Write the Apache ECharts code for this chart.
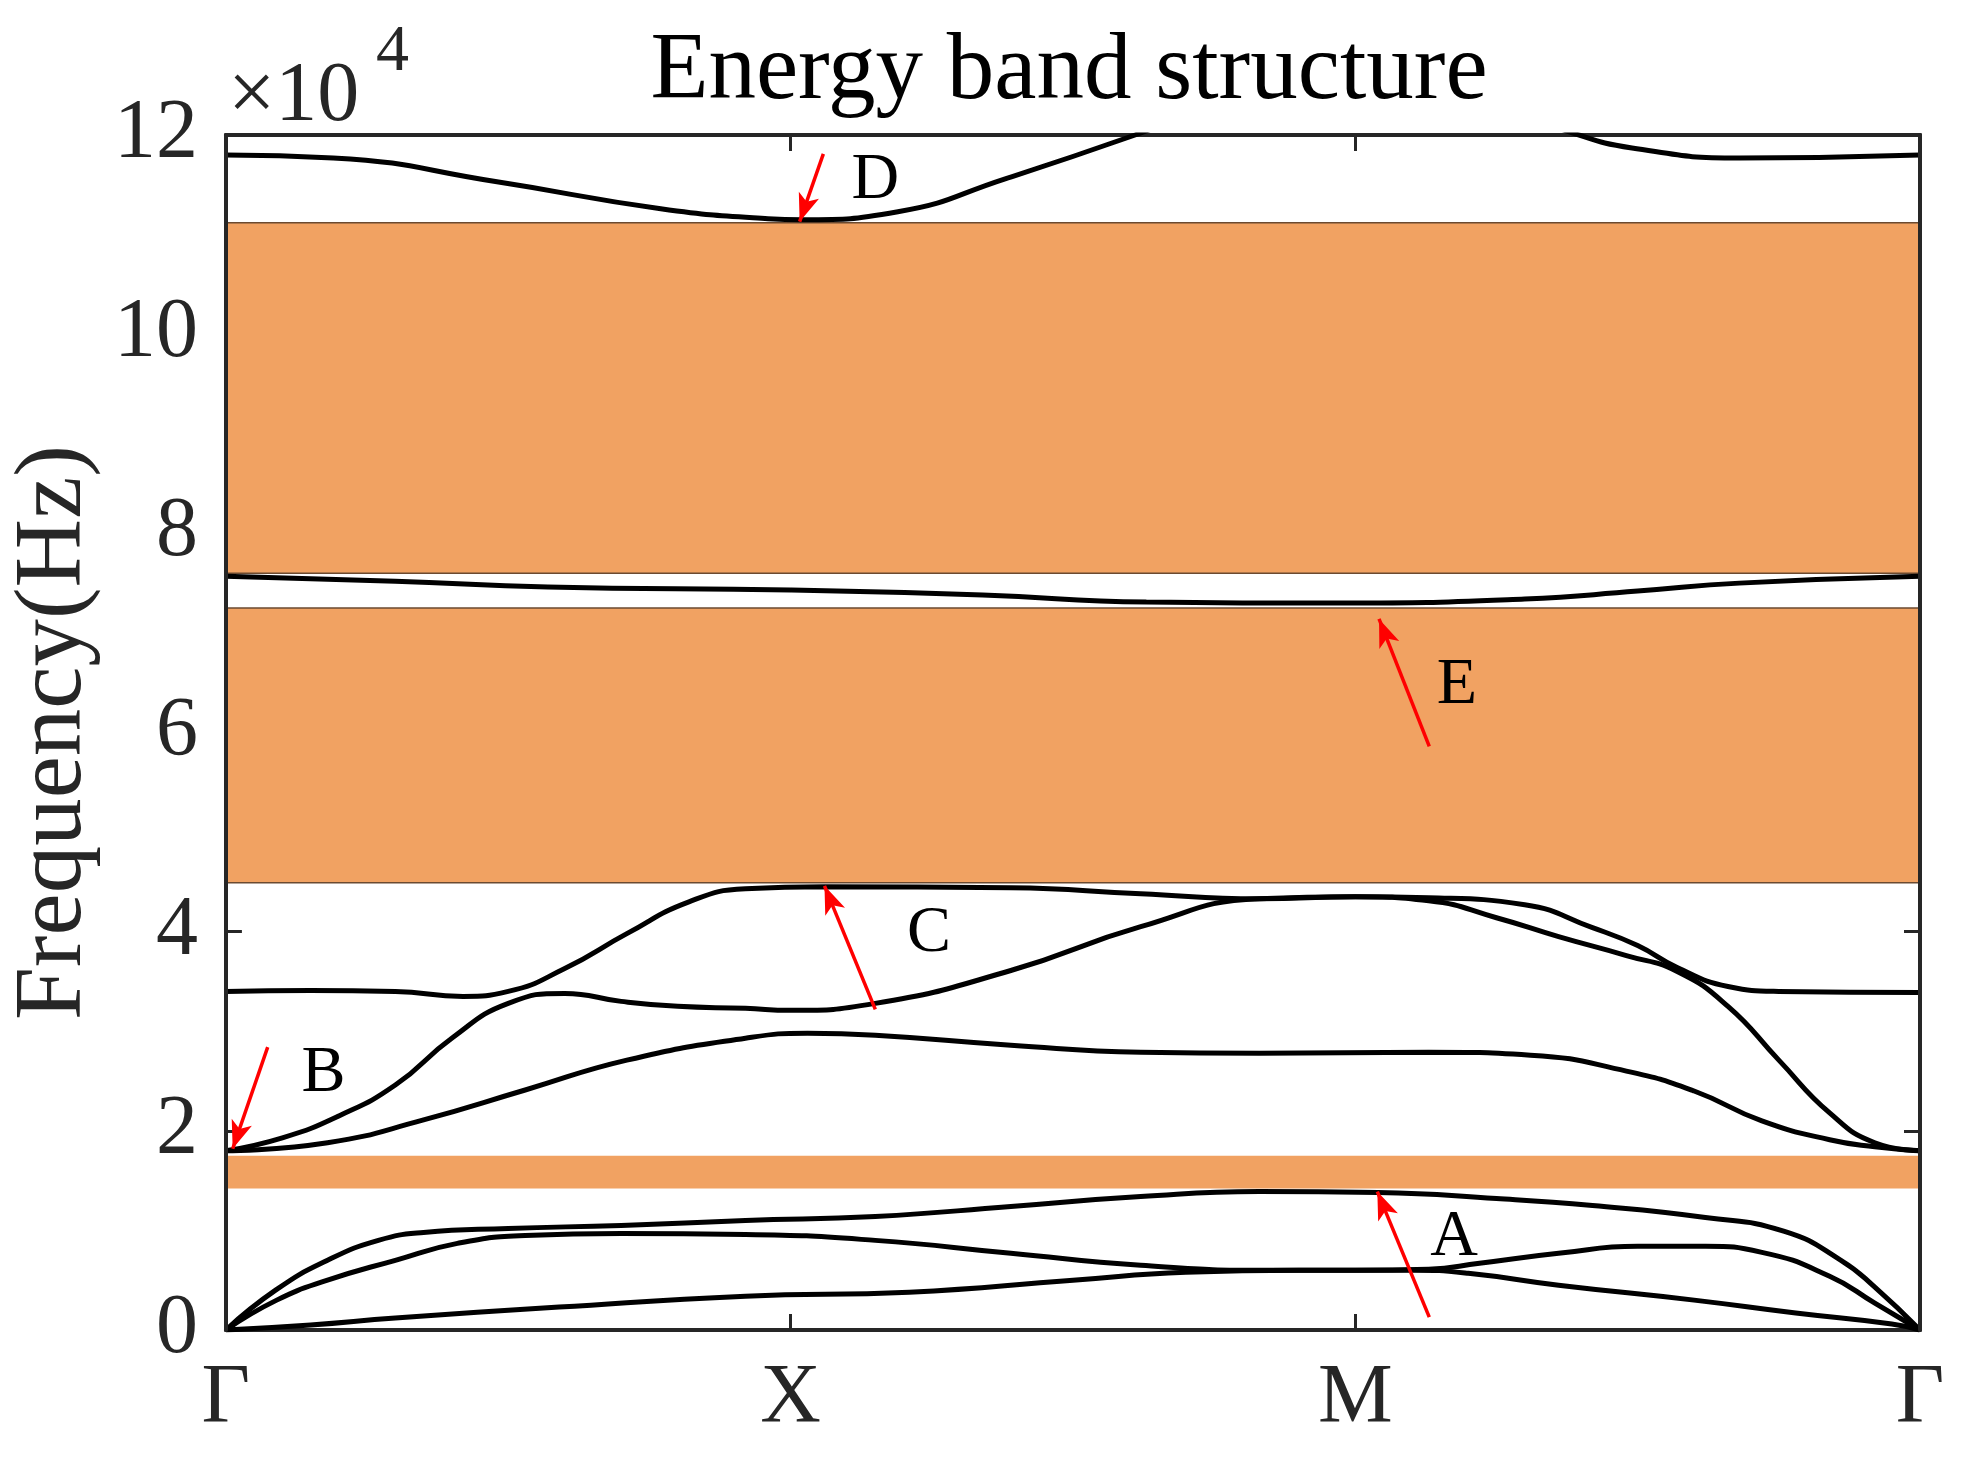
<!DOCTYPE html>
<html>
<head>
<meta charset="utf-8">
<script src="https://cdn.jsdelivr.net/npm/echarts@6/dist/echarts.min.js"></script>
<style>
html,body{margin:0;padding:0;background:#fff;}
#chart{width:1982px;height:1461px;}
</style>
</head>
<body>
<div id="chart"></div>
<script>
// ---- data (frequency in units of 10^4 Hz, wave-vector path position 0..3) ----
const kLabels = ['Γ', 'X', 'M', 'Γ'];
const yMin = 0, yMax = 12, yStep = 2;

// band gaps [lower, upper] (x10^4 Hz)
const gapBands = [[1.42, 1.75], [4.49, 7.25], [7.60, 11.12]];

// dispersion branches: [k, f]
const branch1 = [[0,0],[0.15,0.05],[0.3,0.12],[0.59,0.23],[0.92,0.34],[1.21,0.38],[1.5,0.5],[1.7,0.58],[1.9,0.6],[2.1,0.6],[2.2,0.57],[2.36,0.45],[2.6,0.3],[2.78,0.17],[2.95,0.06],[3,0]];
const branch2 = [[0,0],[0.09,0.3],[0.18,0.5],[0.3,0.7],[0.41,0.87],[0.53,0.95],[0.7,0.97],[0.92,0.96],[1.15,0.9],[1.39,0.77],[1.62,0.65],[1.85,0.6],[2.0,0.6],[2.13,0.61],[2.22,0.67],[2.36,0.77],[2.5,0.84],[2.62,0.84],[2.72,0.78],[2.84,0.54],[2.92,0.27],[3,0]];
const branch3 = [[0,0],[0.088,0.4],[0.18,0.7],[0.27,0.9],[0.35,0.98],[0.5,1.02],[0.7,1.05],[0.92,1.1],[1.15,1.14],[1.39,1.24],[1.62,1.34],[1.83,1.39],[2.04,1.38],[2.25,1.32],[2.42,1.25],[2.62,1.13],[2.76,0.99],[2.86,0.7],[2.92,0.43],[3,0]];
const branch4 = [[0,1.8],[0.18,1.88],[0.35,2.11],[0.53,2.41],[0.71,2.71],[0.92,2.93],[1.03,2.98],[1.15,2.96],[1.39,2.86],[1.62,2.79],[1.83,2.78],[2.13,2.79],[2.31,2.76],[2.48,2.6],[2.6,2.4],[2.72,2.1],[2.84,1.91],[2.92,1.84],[3,1.8]];
const branch5 = [[0,1.8],[0.1,1.93],[0.2,2.15],[0.3,2.46],[0.4,2.93],[0.5,3.28],[0.6,3.38],[0.7,3.3],[0.8,3.25],[0.92,3.23],[1.0,3.21],[1.15,3.28],[1.39,3.61],[1.62,4.05],[1.83,4.33],[2.0,4.35],[2.13,4.31],[2.25,4.14],[2.36,3.95],[2.48,3.76],[2.57,3.6],[2.66,3.25],[2.75,2.71],[2.84,2.18],[2.92,1.88],[3,1.8]];
const branch6 = [[0,3.4],[0.15,3.41],[0.3,3.4],[0.42,3.35],[0.5,3.4],[0.6,3.63],[0.71,3.98],[0.82,4.3],[0.92,4.43],[1.06,4.45],[1.39,4.44],[1.62,4.38],[1.83,4.33],[2.0,4.35],[2.13,4.34],[2.3,4.27],[2.42,4.04],[2.5,3.86],[2.57,3.64],[2.66,3.45],[2.75,3.4],[3,3.39]];
const branch7 = [[0,7.57],[0.3,7.52],[0.57,7.46],[1.0,7.43],[1.34,7.38],[1.63,7.31],[1.97,7.3],[2.3,7.34],[2.5,7.42],[2.68,7.5],[3,7.57]];
const branch8 = [[0,11.8],[0.19,11.77],[0.48,11.53],[0.77,11.26],[0.96,11.16],[1.02,11.15],[1.19,11.23],[1.38,11.56],[1.61,12.0],[1.8,12.4],[2.0,12.6],[2.2,12.4],[2.38,12.03],[2.49,11.87],[2.68,11.77],[3,11.8]];
const branches = [branch1, branch2, branch3, branch4, branch5, branch6, branch7, branch8];

// annotation arrows: [tailK, tailF, headK, headF]
const arrowA = [2.131, 0.13, 2.039, 1.39];
const arrowB = [0.074, 2.84, 0.012, 1.82];
const arrowC = [1.150, 3.22, 1.06, 4.46];
const arrowD = [1.058, 11.81, 1.016, 11.13];
const arrowE = [2.131, 5.86, 2.042, 7.14];
const arrows = [arrowA, arrowB, arrowC, arrowD, arrowE];
// annotation letters
const letterNames = ['A', 'B', 'C', 'D', 'E'];
const letterPos = [[2.175, 0.93], [0.173, 2.57], [1.245, 3.98], [1.15, 11.54], [2.18, 6.47]];

// ---- chart ----
const FONT = "'Liberation Serif','Times New Roman',serif";
const AX = '#262626';
const chart = echarts.init(document.getElementById('chart'), null, {renderer: 'canvas'});

const tickStyle = {show: true, inside: true, length: 16, lineStyle: {color: AX, width: 3}};
const lineStyleAx = {show: true, onZero: false, lineStyle: {color: AX, width: 4}};

const series = [];
// band gaps (drawn under the curves, above the ticks)
series.push({
  type: 'line', data: [[0, 0]], showSymbol: false, silent: true, z: 1,
  lineStyle: {opacity: 0},
  markArea: {
    silent: true,
    data: gapBands.map((b, i) => [
      {coord: [0, b[0]], itemStyle: {color: '#F1A262', borderColor: i === 0 ? '#F1A262' : '#6b4a30', borderWidth: i === 0 ? 0 : 1.5}},
      {coord: [3, b[1]]}
    ])
  }
});
branches.forEach(b => {
  series.push({
    type: 'line', data: b, showSymbol: false, smooth: 0.5,
    lineStyle: {color: '#000', width: 5}, z: 3, clip: true, silent: true
  });
});
// arrows
series.push({
  type: 'line', data: [], z: 4, silent: true,
  markLine: {
    silent: true, symbol: ['none', 'arrow'], symbolSize: [16, 28], animation: false,
    label: {show: false},
    lineStyle: {color: '#FF0000', width: 3.5, type: 'solid', opacity: 1},
    data: arrows.map(a => [{coord: [a[0], a[1]]}, {coord: [a[2], a[3]]}])
  }
});
// letters
series.push({
  type: 'scatter', z: 5, silent: true, symbolSize: 0,
  itemStyle: {opacity: 1},
  data: letterPos.map((p, i) => [p[0], p[1], letterNames[i]]),
  label: {show: true, position: 'inside', formatter: p => p.value[2],
          fontFamily: FONT, fontSize: 66, color: '#000', textBorderWidth: 0, opacity: 1}
});

chart.setOption({
  animation: false,
  backgroundColor: '#fff',
  grid: {left: 222, right: 62, top: 135, bottom: 131, containLabel: false},
  graphic: [
    {type: 'text', x: 1069, y: 26, z: 10, style: {text: 'Energy band structure', font: "95px " + FONT, fill: '#000', align: 'center', verticalAlign: 'top'}},
    {type: 'text', x: 228, y: 56, z: 10, style: {text: '×10', font: "84px " + FONT, fill: AX, align: 'left', verticalAlign: 'top'}},
    {type: 'text', x: 376, y: 20, z: 10, style: {text: '4', font: "66px " + FONT, fill: AX, align: 'left', verticalAlign: 'top'}}
  ],
  xAxis: [
    {type: 'value', min: 0, max: 3, interval: 1, position: 'bottom',
     axisLine: lineStyleAx, axisTick: tickStyle, splitLine: {show: false},
     axisLabel: {formatter: v => kLabels[Math.round(v)], fontFamily: FONT, fontSize: 84, color: AX, margin: 28}},
    {type: 'value', min: 0, max: 3, interval: 1, position: 'top',
     axisLine: lineStyleAx, axisTick: tickStyle, splitLine: {show: false}, axisLabel: {show: false}}
  ],
  yAxis: [
    {type: 'value', min: yMin, max: yMax, interval: yStep, position: 'left', z: 0,
     axisLine: lineStyleAx, axisTick: tickStyle, splitLine: {show: false},
     axisLabel: {fontFamily: FONT, fontSize: 84, color: AX, margin: 28},
     name: 'Frequency(Hz)', nameLocation: 'middle', nameGap: 120, nameRotate: 90,
     nameTextStyle: {fontFamily: FONT, fontSize: 95, color: AX}},
    {type: 'value', min: yMin, max: yMax, interval: yStep, position: 'right', z: 0,
     axisLine: lineStyleAx, axisTick: tickStyle, splitLine: {show: false}, axisLabel: {show: false}},
    {type: 'value', min: yMin, max: yMax, interval: yStep, position: 'left', z: 10,
     axisLine: lineStyleAx, axisTick: {show: false}, splitLine: {show: false}, axisLabel: {show: false}},
    {type: 'value', min: yMin, max: yMax, interval: yStep, position: 'right', z: 10,
     axisLine: lineStyleAx, axisTick: {show: false}, splitLine: {show: false}, axisLabel: {show: false}}
  ],
  series: series
});
</script>
</body>
</html>
